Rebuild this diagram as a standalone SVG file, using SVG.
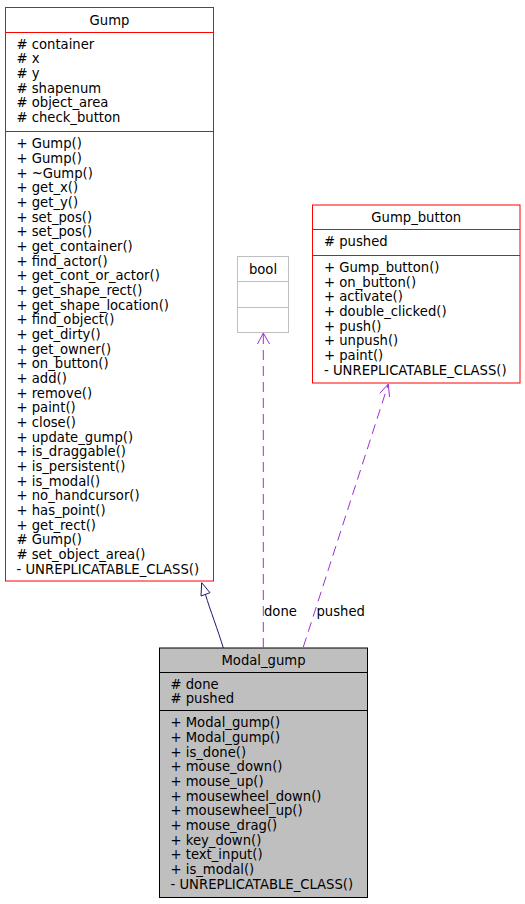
<svg xmlns="http://www.w3.org/2000/svg" width="525" height="904" viewBox="0 0 525 904">
<style>
text{font-family:"DejaVu Sans","Liberation Sans",sans-serif;font-size:13.2px;fill:#000}
.t{text-anchor:middle}
.red{fill:#fff;stroke:#ff0000;stroke-width:1}
.redl{stroke:#ff0000;stroke-width:1}
.gray{fill:#fff;stroke:#bfbfbf;stroke-width:1}
.grayl{stroke:#bfbfbf;stroke-width:1}
.cur{fill:#bfbfbf;stroke:#000;stroke-width:1}
.curl{stroke:#000;stroke-width:1}
.inh{fill:none;stroke:#191970;stroke-width:1}
.use{fill:none;stroke:#9a32cd;stroke-width:1}
.dash{stroke-dasharray:10,6}
</style>
<rect width="525" height="904" fill="#fff"/>
<g id="Gump">
<rect class="red" x="5.5" y="7.5" width="208" height="573.5"/>
<line class="redl" x1="5.5" y1="32.5" x2="213.5" y2="32.5"/>
<line class="redl" x1="5.5" y1="131.5" x2="213.5" y2="131.5"/>
<text class="t" x="109.5" y="25">Gump</text>
<text x="16.5" y="48.5"># container</text>
<text x="16.5" y="63.2"># x</text>
<text x="16.5" y="77.8"># y</text>
<text x="16.5" y="92.5"># shapenum</text>
<text x="16.5" y="107.2"># object_area</text>
<text x="16.5" y="121.8"># check_button</text>
<text x="16.5" y="148.3">+ Gump()</text>
<text x="16.5" y="163">+ Gump()</text>
<text x="16.5" y="177.6">+ ~Gump()</text>
<text x="16.5" y="192.3">+ get_x()</text>
<text x="16.5" y="207">+ get_y()</text>
<text x="16.5" y="221.6">+ set_pos()</text>
<text x="16.5" y="236.3">+ set_pos()</text>
<text x="16.5" y="251">+ get_container()</text>
<text x="16.5" y="265.7">+ find_actor()</text>
<text x="16.5" y="280.3">+ get_cont_or_actor()</text>
<text x="16.5" y="295">+ get_shape_rect()</text>
<text x="16.5" y="309.7">+ get_shape_location()</text>
<text x="16.5" y="324.3">+ find_object()</text>
<text x="16.5" y="339">+ get_dirty()</text>
<text x="16.5" y="353.7">+ get_owner()</text>
<text x="16.5" y="368.3">+ on_button()</text>
<text x="16.5" y="383">+ add()</text>
<text x="16.5" y="397.7">+ remove()</text>
<text x="16.5" y="412.4">+ paint()</text>
<text x="16.5" y="427">+ close()</text>
<text x="16.5" y="441.7">+ update_gump()</text>
<text x="16.5" y="456.4">+ is_draggable()</text>
<text x="16.5" y="471">+ is_persistent()</text>
<text x="16.5" y="485.7">+ is_modal()</text>
<text x="16.5" y="500.4">+ no_handcursor()</text>
<text x="16.5" y="515">+ has_point()</text>
<text x="16.5" y="529.7">+ get_rect()</text>
<text x="16.5" y="544.4"># Gump()</text>
<text x="16.5" y="559"># set_object_area()</text>
<text x="16.5" y="573.7">- UNREPLICATABLE_CLASS()</text>
</g>
<g id="bool">
<rect class="gray" x="237.5" y="256.5" width="51" height="76"/>
<line class="grayl" x1="237.5" y1="281.5" x2="288.5" y2="281.5"/>
<line class="grayl" x1="237.5" y1="307.5" x2="288.5" y2="307.5"/>
<text class="t" x="263" y="274">bool</text>
</g>
<g id="Gump_button">
<rect class="red" x="312.5" y="205" width="207.5" height="178"/>
<line class="redl" x1="312.5" y1="229.5" x2="520" y2="229.5"/>
<line class="redl" x1="312.5" y1="255.5" x2="520" y2="255.5"/>
<text class="t" x="416.3" y="222.4">Gump_button</text>
<text x="324" y="245.5"># pushed</text>
<text x="324" y="272">+ Gump_button()</text>
<text x="324" y="286.6">+ on_button()</text>
<text x="324" y="301.3">+ activate()</text>
<text x="324" y="316">+ double_clicked()</text>
<text x="324" y="330.6">+ push()</text>
<text x="324" y="345.3">+ unpush()</text>
<text x="324" y="360">+ paint()</text>
<text x="324" y="374.6">- UNREPLICATABLE_CLASS()</text>
</g>
<g id="Modal_gump">
<rect class="cur" x="159.5" y="648" width="208" height="249.5"/>
<line class="curl" x1="159.5" y1="672.5" x2="367.5" y2="672.5"/>
<line class="curl" x1="159.5" y1="710.5" x2="367.5" y2="710.5"/>
<text class="t" x="263.5" y="665.4">Modal_gump</text>
<text x="170.5" y="688.6"># done</text>
<text x="170.5" y="703.3"># pushed</text>
<text x="170.5" y="727.3">+ Modal_gump()</text>
<text x="170.5" y="742">+ Modal_gump()</text>
<text x="170.5" y="756.6">+ is_done()</text>
<text x="170.5" y="771.3">+ mouse_down()</text>
<text x="170.5" y="786">+ mouse_up()</text>
<text x="170.5" y="800.6">+ mousewheel_down()</text>
<text x="170.5" y="815.3">+ mousewheel_up()</text>
<text x="170.5" y="830">+ mouse_drag()</text>
<text x="170.5" y="844.7">+ key_down()</text>
<text x="170.5" y="859.3">+ text_input()</text>
<text x="170.5" y="874">+ is_modal()</text>
<text x="170.5" y="888.7">- UNREPLICATABLE_CLASS()</text>
</g>
<g id="connectors">
<path class="inh" d="M223.3,648 C218,630 210,610 205.5,594.5"/>
<polygon class="inh" points="201.7,582.7 201,596 210,592.7"/>
<path class="use dash" d="M263.3,648 L263.3,334"/>
<path class="use" d="M257.5,344 L263.3,333 L269.5,344"/>
<text x="264" y="616">done</text>
<path class="use dash" d="M303.3,647 L388,385"/>
<path class="use" d="M379.8,393.3 L388.3,384 L389.5,397"/>
<text x="316.5" y="616">pushed</text>
</g>
</svg>
